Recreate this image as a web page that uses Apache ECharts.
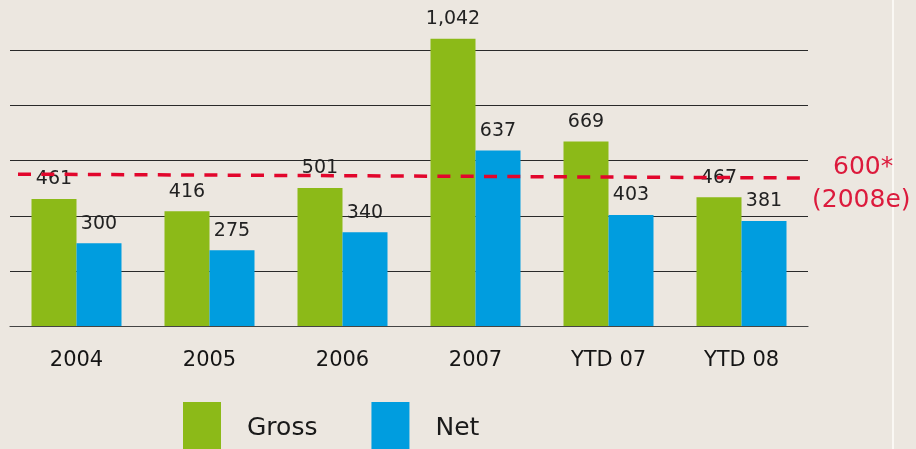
<!DOCTYPE html>
<html>
<head>
<meta charset="utf-8">
<script src="https://cdn.jsdelivr.net/npm/echarts@6/dist/echarts.min.js"></script>
<style>
html,body{margin:0;padding:0;background:#ece7e0;}
#chart{width:916px;height:449px;}
</style>
</head>
<body>
<div id="chart"></div>
<script>
var categories = ['2004', '2005', '2006', '2007', 'YTD 07', 'YTD 08'];
var gross = [461, 416, 501, 1042, 669, 467];
var net = [300, 275, 340, 637, 403, 381];
var targetLine = [551, 537];
var targetLabel = ['600*', '(2008e)'];

var FONT = 'DejaVu Sans';
var chart = echarts.init(document.getElementById('chart'));
function fmt(p) { return Number(p.value).toLocaleString('en-US'); }
var labelCfg = {
  show: true, position: 'top', distance: 10, color: '#222',
  fontFamily: FONT, fontSize: 19, formatter: fmt
};
chart.setOption({
  backgroundColor: '#ece7e0',
  animation: false,
  legend: {
    left: 183, top: 402, padding: 0, itemWidth: 38, itemHeight: 52, itemGap: 54,
    icon: 'rect',
    data: ['Gross', 'Net'],
    textStyle: { fontFamily: FONT, fontSize: 25, color: '#1a1a1a', padding: [0, 0, 0, 21] }
  },
  grid: [
    { left: 10, right: 108, top: 50.4, bottom: 123 },
    { left: 18, right: 108, top: 50.4, bottom: 123 }
  ],
  xAxis: [
    {
      type: 'category', data: categories, gridIndex: 0,
      axisLine: { show: true, lineStyle: { color: '#444', width: 1.2 } },
      axisTick: { show: false },
      axisLabel: { color: '#151515', fontFamily: FONT, fontSize: 21, margin: 24 }
    },
    { type: 'value', gridIndex: 1, min: 0, max: 1, show: false }
  ],
  yAxis: [
    {
      type: 'value', gridIndex: 0, min: 0, max: 1000, interval: 200,
      axisLabel: { show: false }, axisLine: { show: false }, axisTick: { show: false },
      splitLine: { show: true, lineStyle: { color: '#2a2a2a', width: 1.2 } }
    },
    { type: 'value', gridIndex: 1, min: 0, max: 1000, show: false }
  ],
  series: [
    {
      name: 'Gross', type: 'bar', data: gross, barWidth: 45, barGap: '0%',
      clip: false, itemStyle: { color: '#8cba18' }, label: labelCfg, z: 2
    },
    {
      name: 'Net', type: 'bar', data: net, barWidth: 45, barGap: '0%',
      clip: false, itemStyle: { color: '#009ddf' }, label: labelCfg, z: 2
    },
    {
      name: 'target', type: 'line', xAxisIndex: 1, yAxisIndex: 1,
      data: [[0, targetLine[0]], [1, targetLine[1]]],
      symbol: 'none', silent: true, z: 5,
      lineStyle: { color: '#e2062c', width: 3.5, type: [13, 10.3], cap: 'butt' }
    }
  ],
  graphic: [
    { type: 'rect', z: 0, shape: { x: 892, y: 0, width: 2, height: 449 }, style: { fill: '#faf8f4' }, silent: true },
    { type: 'text', z: 10, left: 833, top: 155, style: { text: targetLabel[0], fill: '#dc1a3c', font: '25px "DejaVu Sans"' } },
    { type: 'text', z: 10, left: 812, top: 188, style: { text: targetLabel[1], fill: '#dc1a3c', font: '25px "DejaVu Sans"' } }
  ]
});
</script>
</body>
</html>
